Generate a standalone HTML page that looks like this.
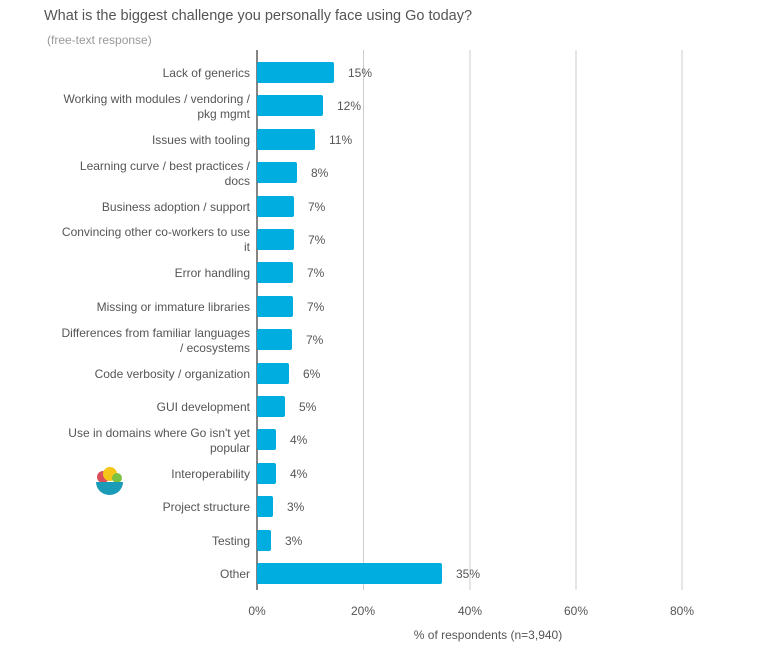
<!DOCTYPE html>
<html><head><style>
body{margin:0;background:#fff;}
svg text{font-family:"Liberation Sans",sans-serif;}
</style></head><body>
<svg width="771" height="661" xmlns="http://www.w3.org/2000/svg">
<text x="44" y="20" font-size="14.5" fill="#555">What is the biggest challenge you personally face using Go today?</text>
<text x="47" y="44" font-size="12" fill="#999">(free-text response)</text>
<g stroke="#ccc" stroke-width="1">
<line x1="363.5" y1="50" x2="363.5" y2="590"/>
<line x1="470" y1="50" x2="470" y2="590"/>
<line x1="576" y1="50" x2="576" y2="590"/>
<line x1="682" y1="50" x2="682" y2="590"/>
</g>
<line x1="257" y1="50" x2="257" y2="590" stroke="#333" stroke-width="1.2"/>
<g fill="#00ADE0">
<rect x="257" y="62" width="77" height="21" rx="2"/>
<rect x="257" y="95" width="66" height="21" rx="2"/>
<rect x="257" y="129" width="58" height="21" rx="2"/>
<rect x="257" y="162" width="40" height="21" rx="2"/>
<rect x="257" y="196" width="37" height="21" rx="2"/>
<rect x="257" y="229" width="37" height="21" rx="2"/>
<rect x="257" y="262" width="36" height="21" rx="2"/>
<rect x="257" y="296" width="36" height="21" rx="2"/>
<rect x="257" y="329" width="35" height="21" rx="2"/>
<rect x="257" y="363" width="32" height="21" rx="2"/>
<rect x="257" y="396" width="28" height="21" rx="2"/>
<rect x="257" y="429" width="19" height="21" rx="2"/>
<rect x="257" y="463" width="19" height="21" rx="2"/>
<rect x="257" y="496" width="16" height="21" rx="2"/>
<rect x="257" y="530" width="14" height="21" rx="2"/>
<rect x="257" y="563" width="185" height="21" rx="2"/>
</g>
<g font-size="12" fill="#555">
<text x="348" y="77">15%</text>
<text x="337" y="110">12%</text>
<text x="329" y="144">11%</text>
<text x="311" y="177">8%</text>
<text x="308" y="211">7%</text>
<text x="308" y="244">7%</text>
<text x="307" y="277">7%</text>
<text x="307" y="311">7%</text>
<text x="306" y="344">7%</text>
<text x="303" y="378">6%</text>
<text x="299" y="411">5%</text>
<text x="290" y="444">4%</text>
<text x="290" y="478">4%</text>
<text x="287" y="511">3%</text>
<text x="285" y="545">3%</text>
<text x="456" y="578">35%</text>
</g>
<g font-size="12" fill="#555" text-anchor="end">
<text x="250" y="77">Lack of generics</text>
<text x="250" y="103">Working with modules / vendoring /</text>
<text x="250" y="118">pkg mgmt</text>
<text x="250" y="144">Issues with tooling</text>
<text x="250" y="170">Learning curve / best practices /</text>
<text x="250" y="185">docs</text>
<text x="250" y="211">Business adoption / support</text>
<text x="250" y="236">Convincing other co-workers to use</text>
<text x="250" y="251">it</text>
<text x="250" y="277">Error handling</text>
<text x="250" y="311">Missing or immature libraries</text>
<text x="250" y="337">Differences from familiar languages</text>
<text x="250" y="352">/ ecosystems</text>
<text x="250" y="378">Code verbosity / organization</text>
<text x="250" y="411">GUI development</text>
<text x="250" y="437">Use in domains where Go isn't yet</text>
<text x="250" y="452">popular</text>
<text x="250" y="478">Interoperability</text>
<text x="250" y="511">Project structure</text>
<text x="250" y="545">Testing</text>
<text x="250" y="578">Other</text>
</g>
<g font-size="12" fill="#555" text-anchor="middle">
<text x="257" y="615">0%</text>
<text x="363" y="615">20%</text>
<text x="470" y="615">40%</text>
<text x="576" y="615">60%</text>
<text x="682" y="615">80%</text>
<text x="488" y="639">% of respondents (n=3,940)</text>
</g>
<g>
<circle cx="103" cy="477" r="6" fill="#d94f5c"/>
<circle cx="110" cy="474" r="7" fill="#f5c518"/>
<circle cx="117" cy="478" r="5" fill="#7cc242"/>
<path d="M96 482 H123 A13.5 13 0 0 1 96 482 Z" fill="#1a9bb8"/>
</g>
</svg>
</body></html>
